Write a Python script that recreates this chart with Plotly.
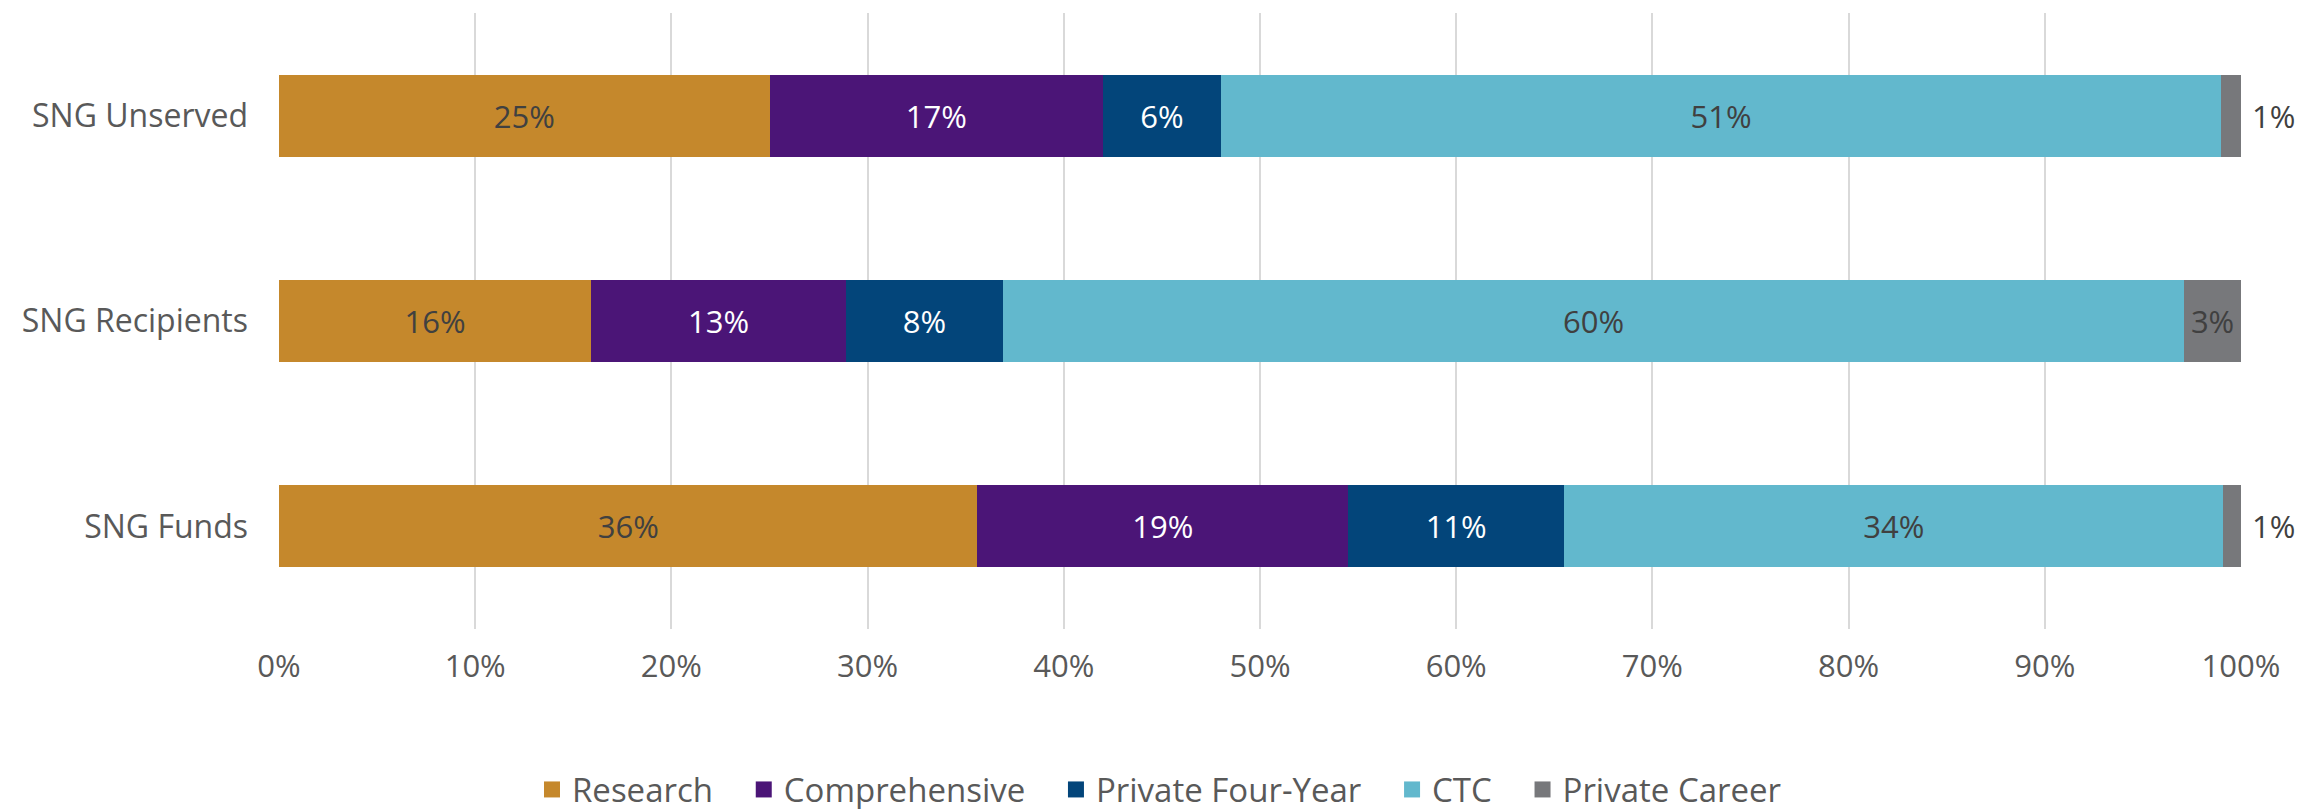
import plotly.graph_objects as go

# categories listed top to bottom as in the chart
groups = ["SNG Unserved", "SNG Recipients", "SNG Funds"]

research = [25.0, 15.9, 35.6]
comprehensive = [17.0, 13.0, 18.9]
private_four_year = [6.0, 8.0, 11.0]
ctc = [51.0, 60.2, 33.6]
private_career = [1.0, 2.9, 0.9]

x_ticks = [0, 10, 20, 30, 40, 50, 60, 70, 80, 90, 100]

FONT = "Century Gothic, Open Sans, sans-serif"
dark = "#404040"
grey = "#595959"
nbsp = "\u00a0"

series = [
    ("Research", research, "#C5882C", dark),
    ("Comprehensive", comprehensive, "#4B1577", "white"),
    ("Private Four-Year", private_four_year, "#03457A", "white"),
    ("CTC", ctc, "#62B8CD", dark),
    ("Private Career", private_career, "#77787B", dark),
]

fig = go.Figure()
for name, vals, color, tcolor in series:
    labels = [f"{round(v):.0f}%" for v in vals]
    if name == "Private Career":
        pos = ["outside" if v < 2 else "inside" for v in vals]
        labels = [nbsp + l if p == "outside" else l for l, p in zip(labels, pos)]
    else:
        pos = "inside"
    fig.add_trace(go.Bar(
        y=groups, x=vals, name=name, orientation="h", showlegend=False,
        marker=dict(color=color, line=dict(width=0)),
        text=labels,
        textposition=pos,
        insidetextanchor="middle",
        insidetextfont=dict(color=tcolor, size=31, family=FONT),
        outsidetextfont=dict(color=dark, size=31, family=FONT),
        textangle=0,
        constraintext="none",
        cliponaxis=False,
    ))

# legend entries with larger square swatches
for i, (name, vals, color, tcolor) in enumerate(series):
    pad = nbsp * 3 if i < len(series) - 1 else ""
    fig.add_trace(go.Scatter(
        x=[None], y=[None], mode="markers", name=name + pad,
        marker=dict(symbol="square", size=18, color=color),
    ))

# the page adds an 8px body margin, so margins are shifted by 8px
fig.update_layout(
    barmode="stack",
    width=2303, height=809,
    margin=dict(l=271, r=70, t=5, b=188),
    plot_bgcolor="white", paper_bgcolor="white",
    font=dict(family=FONT, size=31, color=grey),
    bargap=0.6,
    legend=dict(orientation="h", xref="container", x=0.5, xanchor="center",
                yref="container", y=0.034, yanchor="middle",
                font=dict(size=33, color=grey), traceorder="normal",
                itemwidth=30),
    xaxis=dict(range=[0, 100], tickvals=x_ticks, ticktext=[f"{t}%" for t in x_ticks],
               showgrid=True, gridcolor="#D9D9D9", gridwidth=2, zeroline=False,
               showline=False, ticks="", ticklabelstandoff=16, automargin=False,
               tickfont=dict(size=31, color=grey)),
    yaxis=dict(autorange="reversed", showgrid=False, ticks="", ticklabelstandoff=30,
               automargin=False, tickfont=dict(size=32, color=grey)),
)

fig.write_html("out.html")
